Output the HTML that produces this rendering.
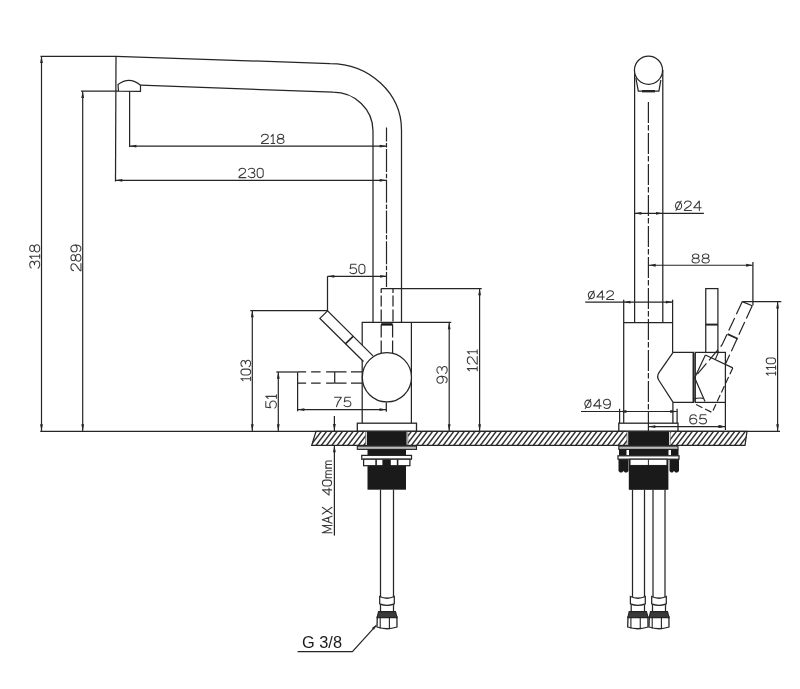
<!DOCTYPE html>
<html><head><meta charset="utf-8"><style>
html,body{margin:0;padding:0;background:#fff;width:800px;height:689px;overflow:hidden}
svg{display:block}
</style></head><body>
<svg width="800" height="689" viewBox="0 0 800 689">
<defs><filter id="gs" x="-10%" y="-50%" width="120%" height="200%"><feColorMatrix type="saturate" values="0"/></filter></defs>
<rect width="800" height="689" fill="#fff"/>
<line x1="40.5" y1="56.3" x2="116" y2="56.3" stroke="#252525" stroke-width="1.25"/>
<line x1="41.5" y1="56.3" x2="41.5" y2="431.1" stroke="#252525" stroke-width="1.2"/>
<polygon points="41.50,56.30 42.90,63.10 40.10,63.10" fill="#252525"/>
<polygon points="41.50,431.10 40.10,424.30 42.90,424.30" fill="#252525"/>
<path d="M116,56.3 L330,63.5 A71.5,66.5 0 0 1 401.5,130 L401.5,322.4" fill="none" stroke="#252525" stroke-width="1.25"/>
<line x1="116" y1="56.3" x2="115.5" y2="181.5" stroke="#252525" stroke-width="1.25"/>
<path d="M118,84.6 Q129.5,75.8 140.5,85.2 L140.5,91.4 L118.5,91.1 Z" fill="#fff" stroke="#252525" stroke-width="1.2"/>
<path d="M140.5,85.2 L333,92.2 A40,38.8 0 0 1 373,131 L373,322.4" fill="none" stroke="#252525" stroke-width="1.25"/>
<line x1="81" y1="91.2" x2="118.5" y2="91.2" stroke="#252525" stroke-width="1.25"/>
<line x1="82.7" y1="91.2" x2="82.7" y2="431.1" stroke="#252525" stroke-width="1.2"/>
<polygon points="82.70,91.20 84.10,98.00 81.30,98.00" fill="#252525"/>
<polygon points="82.70,431.10 81.30,424.30 84.10,424.30" fill="#252525"/>
<line x1="129.6" y1="91.2" x2="129.6" y2="147" stroke="#252525" stroke-width="1.25"/>
<line x1="129.6" y1="146.2" x2="386.5" y2="146.2" stroke="#252525" stroke-width="1.2"/>
<polygon points="129.60,146.20 136.40,144.80 136.40,147.60" fill="#252525"/>
<polygon points="386.50,146.20 379.70,147.60 379.70,144.80" fill="#252525"/>
<line x1="115.5" y1="180.3" x2="386.5" y2="180.3" stroke="#252525" stroke-width="1.2"/>
<polygon points="115.50,180.30 122.30,178.90 122.30,181.70" fill="#252525"/>
<polygon points="386.50,180.30 379.70,181.70 379.70,178.90" fill="#252525"/>
<line x1="386.5" y1="127.4" x2="386.5" y2="287" stroke="#252525" stroke-width="1.2" stroke-dasharray="23 1.6 4.5 1.6" stroke-dashoffset="9"/>
<line x1="327.5" y1="276.3" x2="387" y2="276.3" stroke="#252525" stroke-width="1.2"/>
<polygon points="327.50,276.30 334.30,274.90 334.30,277.70" fill="#252525"/>
<polygon points="387.00,276.30 380.20,277.70 380.20,274.90" fill="#252525"/>
<line x1="327.5" y1="276.3" x2="327.5" y2="311" stroke="#252525" stroke-width="1.25"/>
<line x1="250.3" y1="310.5" x2="327.5" y2="310.5" stroke="#252525" stroke-width="1.25"/>
<line x1="252.3" y1="310.5" x2="252.3" y2="431.1" stroke="#252525" stroke-width="1.2"/>
<polygon points="252.30,310.50 253.70,317.30 250.90,317.30" fill="#252525"/>
<polygon points="252.30,431.10 250.90,424.30 253.70,424.30" fill="#252525"/>
<line x1="381.2" y1="288.5" x2="481.7" y2="288.5" stroke="#252525" stroke-width="1.25"/>
<line x1="479.6" y1="288.5" x2="479.6" y2="431.1" stroke="#252525" stroke-width="1.2"/>
<polygon points="479.60,288.50 481.00,295.30 478.20,295.30" fill="#252525"/>
<polygon points="479.60,431.10 478.20,424.30 481.00,424.30" fill="#252525"/>
<line x1="361.75" y1="322.4" x2="451.25" y2="322.4" stroke="#252525" stroke-width="1.25"/>
<line x1="449.2" y1="322.4" x2="449.2" y2="431.1" stroke="#252525" stroke-width="1.2"/>
<polygon points="449.20,322.40 450.60,329.20 447.80,329.20" fill="#252525"/>
<polygon points="449.20,431.10 447.80,424.30 450.60,424.30" fill="#252525"/>
<line x1="362.2" y1="322.4" x2="362.2" y2="423.2" stroke="#252525" stroke-width="1.25"/>
<line x1="411.4" y1="322.4" x2="411.4" y2="423.2" stroke="#252525" stroke-width="1.25"/>
<line x1="381.2" y1="288.4" x2="381.2" y2="322.4" stroke="#252525" stroke-width="1.25" stroke-dasharray="4.5 2.5 11 3 12"/>
<line x1="393.0" y1="288.4" x2="393.0" y2="322.4" stroke="#252525" stroke-width="1.25" stroke-dasharray="4.5 2.5 11 3 12"/>
<line x1="381.2" y1="324.4" x2="381.2" y2="353" stroke="#252525" stroke-width="1.25" stroke-dasharray="13 3 13"/>
<line x1="392.6" y1="324.4" x2="392.6" y2="353" stroke="#252525" stroke-width="1.25" stroke-dasharray="13 3 13"/>
<line x1="381.2" y1="324.4" x2="392.6" y2="324.4" stroke="#111" stroke-width="2.4"/>
<path d="M363.5,361.5 L319.9,318.4 L327.6,310.9 L373,355.9" fill="#fff" stroke="#252525" stroke-width="1.25"/>
<line x1="345.4" y1="343.9" x2="353.1" y2="336.4" stroke="#252525" stroke-width="1.6"/>
<circle cx="386.9" cy="377.3" r="24.6" fill="#fff" stroke="#252525" stroke-width="1.25"/>
<line x1="297.6" y1="371.9" x2="334.5" y2="371.9" stroke="#252525" stroke-width="1.25" stroke-dasharray="8.5 5 9.5 5.5 9"/>
<line x1="297.6" y1="383.0" x2="334.5" y2="383.0" stroke="#252525" stroke-width="1.25" stroke-dasharray="8.5 5 9.5 5.5 9"/>
<line x1="334.5" y1="371.9" x2="362.4" y2="371.9" stroke="#252525" stroke-width="1.25" stroke-dasharray="12 4.5 12"/>
<line x1="334.5" y1="383.0" x2="362.4" y2="383.0" stroke="#252525" stroke-width="1.25" stroke-dasharray="12 4.5 12"/>
<line x1="334.7" y1="371.8" x2="334.7" y2="383" stroke="#252525" stroke-width="1.25"/>
<line x1="276.3" y1="372" x2="297.6" y2="372" stroke="#252525" stroke-width="1.25"/>
<line x1="278.3" y1="372" x2="278.3" y2="431.1" stroke="#252525" stroke-width="1.2"/>
<polygon points="278.30,372.00 279.70,378.80 276.90,378.80" fill="#252525"/>
<polygon points="278.30,431.10 276.90,424.30 279.70,424.30" fill="#252525"/>
<line x1="297.6" y1="372" x2="297.6" y2="411.3" stroke="#252525" stroke-width="1.25"/>
<line x1="297.6" y1="409.6" x2="386.3" y2="409.6" stroke="#252525" stroke-width="1.2"/>
<polygon points="297.60,409.60 304.40,408.20 304.40,411.00" fill="#252525"/>
<polygon points="386.30,409.60 379.50,411.00 379.50,408.20" fill="#252525"/>
<line x1="386.3" y1="402.2" x2="386.3" y2="411.8" stroke="#252525" stroke-width="1.25"/>
<line x1="40.25" y1="431.4" x2="780" y2="431.4" stroke="#252525" stroke-width="1.25"/>
<defs><clipPath id="ct"><polygon points="316,431.25 747,431.25 745,445.3 311.7,445.3"/></clipPath></defs>
<g clip-path="url(#ct)"><line x1="300.00" y1="445.5" x2="311.00" y2="431" stroke="#303030" stroke-width="1.4"/><line x1="305.30" y1="445.5" x2="316.30" y2="431" stroke="#303030" stroke-width="1.4"/><line x1="310.60" y1="445.5" x2="321.60" y2="431" stroke="#303030" stroke-width="1.4"/><line x1="315.90" y1="445.5" x2="326.90" y2="431" stroke="#303030" stroke-width="1.4"/><line x1="321.20" y1="445.5" x2="332.20" y2="431" stroke="#303030" stroke-width="1.4"/><line x1="326.50" y1="445.5" x2="337.50" y2="431" stroke="#303030" stroke-width="1.4"/><line x1="331.80" y1="445.5" x2="342.80" y2="431" stroke="#303030" stroke-width="1.4"/><line x1="337.10" y1="445.5" x2="348.10" y2="431" stroke="#303030" stroke-width="1.4"/><line x1="342.40" y1="445.5" x2="353.40" y2="431" stroke="#303030" stroke-width="1.4"/><line x1="347.70" y1="445.5" x2="358.70" y2="431" stroke="#303030" stroke-width="1.4"/><line x1="353.00" y1="445.5" x2="364.00" y2="431" stroke="#303030" stroke-width="1.4"/><line x1="358.30" y1="445.5" x2="369.30" y2="431" stroke="#303030" stroke-width="1.4"/><line x1="363.60" y1="445.5" x2="374.60" y2="431" stroke="#303030" stroke-width="1.4"/><line x1="368.90" y1="445.5" x2="379.90" y2="431" stroke="#303030" stroke-width="1.4"/><line x1="374.20" y1="445.5" x2="385.20" y2="431" stroke="#303030" stroke-width="1.4"/><line x1="379.50" y1="445.5" x2="390.50" y2="431" stroke="#303030" stroke-width="1.4"/><line x1="384.80" y1="445.5" x2="395.80" y2="431" stroke="#303030" stroke-width="1.4"/><line x1="390.10" y1="445.5" x2="401.10" y2="431" stroke="#303030" stroke-width="1.4"/><line x1="395.40" y1="445.5" x2="406.40" y2="431" stroke="#303030" stroke-width="1.4"/><line x1="400.70" y1="445.5" x2="411.70" y2="431" stroke="#303030" stroke-width="1.4"/><line x1="406.00" y1="445.5" x2="417.00" y2="431" stroke="#303030" stroke-width="1.4"/><line x1="411.30" y1="445.5" x2="422.30" y2="431" stroke="#303030" stroke-width="1.4"/><line x1="416.60" y1="445.5" x2="427.60" y2="431" stroke="#303030" stroke-width="1.4"/><line x1="421.90" y1="445.5" x2="432.90" y2="431" stroke="#303030" stroke-width="1.4"/><line x1="427.20" y1="445.5" x2="438.20" y2="431" stroke="#303030" stroke-width="1.4"/><line x1="432.50" y1="445.5" x2="443.50" y2="431" stroke="#303030" stroke-width="1.4"/><line x1="437.80" y1="445.5" x2="448.80" y2="431" stroke="#303030" stroke-width="1.4"/><line x1="443.10" y1="445.5" x2="454.10" y2="431" stroke="#303030" stroke-width="1.4"/><line x1="448.40" y1="445.5" x2="459.40" y2="431" stroke="#303030" stroke-width="1.4"/><line x1="453.70" y1="445.5" x2="464.70" y2="431" stroke="#303030" stroke-width="1.4"/><line x1="459.00" y1="445.5" x2="470.00" y2="431" stroke="#303030" stroke-width="1.4"/><line x1="464.30" y1="445.5" x2="475.30" y2="431" stroke="#303030" stroke-width="1.4"/><line x1="469.60" y1="445.5" x2="480.60" y2="431" stroke="#303030" stroke-width="1.4"/><line x1="474.90" y1="445.5" x2="485.90" y2="431" stroke="#303030" stroke-width="1.4"/><line x1="480.20" y1="445.5" x2="491.20" y2="431" stroke="#303030" stroke-width="1.4"/><line x1="485.50" y1="445.5" x2="496.50" y2="431" stroke="#303030" stroke-width="1.4"/><line x1="490.80" y1="445.5" x2="501.80" y2="431" stroke="#303030" stroke-width="1.4"/><line x1="496.10" y1="445.5" x2="507.10" y2="431" stroke="#303030" stroke-width="1.4"/><line x1="501.40" y1="445.5" x2="512.40" y2="431" stroke="#303030" stroke-width="1.4"/><line x1="506.70" y1="445.5" x2="517.70" y2="431" stroke="#303030" stroke-width="1.4"/><line x1="512.00" y1="445.5" x2="523.00" y2="431" stroke="#303030" stroke-width="1.4"/><line x1="517.30" y1="445.5" x2="528.30" y2="431" stroke="#303030" stroke-width="1.4"/><line x1="522.60" y1="445.5" x2="533.60" y2="431" stroke="#303030" stroke-width="1.4"/><line x1="527.90" y1="445.5" x2="538.90" y2="431" stroke="#303030" stroke-width="1.4"/><line x1="533.20" y1="445.5" x2="544.20" y2="431" stroke="#303030" stroke-width="1.4"/><line x1="538.50" y1="445.5" x2="549.50" y2="431" stroke="#303030" stroke-width="1.4"/><line x1="543.80" y1="445.5" x2="554.80" y2="431" stroke="#303030" stroke-width="1.4"/><line x1="549.10" y1="445.5" x2="560.10" y2="431" stroke="#303030" stroke-width="1.4"/><line x1="554.40" y1="445.5" x2="565.40" y2="431" stroke="#303030" stroke-width="1.4"/><line x1="559.70" y1="445.5" x2="570.70" y2="431" stroke="#303030" stroke-width="1.4"/><line x1="565.00" y1="445.5" x2="576.00" y2="431" stroke="#303030" stroke-width="1.4"/><line x1="570.30" y1="445.5" x2="581.30" y2="431" stroke="#303030" stroke-width="1.4"/><line x1="575.60" y1="445.5" x2="586.60" y2="431" stroke="#303030" stroke-width="1.4"/><line x1="580.90" y1="445.5" x2="591.90" y2="431" stroke="#303030" stroke-width="1.4"/><line x1="586.20" y1="445.5" x2="597.20" y2="431" stroke="#303030" stroke-width="1.4"/><line x1="591.50" y1="445.5" x2="602.50" y2="431" stroke="#303030" stroke-width="1.4"/><line x1="596.80" y1="445.5" x2="607.80" y2="431" stroke="#303030" stroke-width="1.4"/><line x1="602.10" y1="445.5" x2="613.10" y2="431" stroke="#303030" stroke-width="1.4"/><line x1="607.40" y1="445.5" x2="618.40" y2="431" stroke="#303030" stroke-width="1.4"/><line x1="612.70" y1="445.5" x2="623.70" y2="431" stroke="#303030" stroke-width="1.4"/><line x1="618.00" y1="445.5" x2="629.00" y2="431" stroke="#303030" stroke-width="1.4"/><line x1="623.30" y1="445.5" x2="634.30" y2="431" stroke="#303030" stroke-width="1.4"/><line x1="628.60" y1="445.5" x2="639.60" y2="431" stroke="#303030" stroke-width="1.4"/><line x1="633.90" y1="445.5" x2="644.90" y2="431" stroke="#303030" stroke-width="1.4"/><line x1="639.20" y1="445.5" x2="650.20" y2="431" stroke="#303030" stroke-width="1.4"/><line x1="644.50" y1="445.5" x2="655.50" y2="431" stroke="#303030" stroke-width="1.4"/><line x1="649.80" y1="445.5" x2="660.80" y2="431" stroke="#303030" stroke-width="1.4"/><line x1="655.10" y1="445.5" x2="666.10" y2="431" stroke="#303030" stroke-width="1.4"/><line x1="660.40" y1="445.5" x2="671.40" y2="431" stroke="#303030" stroke-width="1.4"/><line x1="665.70" y1="445.5" x2="676.70" y2="431" stroke="#303030" stroke-width="1.4"/><line x1="671.00" y1="445.5" x2="682.00" y2="431" stroke="#303030" stroke-width="1.4"/><line x1="676.30" y1="445.5" x2="687.30" y2="431" stroke="#303030" stroke-width="1.4"/><line x1="681.60" y1="445.5" x2="692.60" y2="431" stroke="#303030" stroke-width="1.4"/><line x1="686.90" y1="445.5" x2="697.90" y2="431" stroke="#303030" stroke-width="1.4"/><line x1="692.20" y1="445.5" x2="703.20" y2="431" stroke="#303030" stroke-width="1.4"/><line x1="697.50" y1="445.5" x2="708.50" y2="431" stroke="#303030" stroke-width="1.4"/><line x1="702.80" y1="445.5" x2="713.80" y2="431" stroke="#303030" stroke-width="1.4"/><line x1="708.10" y1="445.5" x2="719.10" y2="431" stroke="#303030" stroke-width="1.4"/><line x1="713.40" y1="445.5" x2="724.40" y2="431" stroke="#303030" stroke-width="1.4"/><line x1="718.70" y1="445.5" x2="729.70" y2="431" stroke="#303030" stroke-width="1.4"/><line x1="724.00" y1="445.5" x2="735.00" y2="431" stroke="#303030" stroke-width="1.4"/><line x1="729.30" y1="445.5" x2="740.30" y2="431" stroke="#303030" stroke-width="1.4"/><line x1="734.60" y1="445.5" x2="745.60" y2="431" stroke="#303030" stroke-width="1.4"/><line x1="739.90" y1="445.5" x2="750.90" y2="431" stroke="#303030" stroke-width="1.4"/><line x1="745.20" y1="445.5" x2="756.20" y2="431" stroke="#303030" stroke-width="1.4"/><line x1="750.50" y1="445.5" x2="761.50" y2="431" stroke="#303030" stroke-width="1.4"/><line x1="755.80" y1="445.5" x2="766.80" y2="431" stroke="#303030" stroke-width="1.4"/></g>
<polygon points="316,431.25 747,431.25 745,445.3 311.7,445.3" fill="none" stroke="#252525" stroke-width="1.25"/>
<rect x="357.29999999999995" y="423.2" width="59.2" height="7.9" fill="#fff" stroke="#252525" stroke-width="1.3"/>
<rect x="365.7" y="431.9" width="42.100000000000044" height="12.8" fill="#fff"/>
<rect x="366.9" y="431.5" width="39.700000000000045" height="13.5" fill="#1a1a1a"/>
<line x1="365.7" y1="431.5" x2="365.7" y2="445" stroke="#666" stroke-width="0.8"/>
<line x1="407.8" y1="431.5" x2="407.8" y2="445" stroke="#666" stroke-width="0.8"/>
<rect x="357.29999999999995" y="446.1" width="59.2" height="3.3" fill="#bbb" stroke="#252525" stroke-width="1.1"/>
<rect x="367.5" y="449.4" width="38.50000000000004" height="40.3" fill="#1a1a1a"/>
<rect x="361.75" y="455.4" width="49.75" height="3.8" fill="#fff" stroke="#252525" stroke-width="1.25"/>
<rect x="363.6" y="459.2" width="46.3" height="6.5" fill="#fff" stroke="#252525" stroke-width="1.25"/>
<line x1="376.1" y1="459.2" x2="376.1" y2="465.7" stroke="#252525" stroke-width="1.6"/>
<line x1="397.6" y1="459.2" x2="397.6" y2="465.7" stroke="#252525" stroke-width="1.6"/>
<rect x="382.4" y="459.6" width="8.4" height="6.5" fill="#1a1a1a"/>
<line x1="380.5" y1="489.7" x2="380.5" y2="597" stroke="#252525" stroke-width="1.25"/>
<line x1="393.5" y1="489.7" x2="393.5" y2="597" stroke="#252525" stroke-width="1.25"/>
<path d="M379.7,596.5 Q387.0,600 394.3,596.5 L394.3,603.8 Q387.0,606.8 379.7,603.8 Z" fill="#fff" stroke="#252525" stroke-width="1.25"/>
<line x1="380.5" y1="604.5" x2="380.5" y2="612" stroke="#252525" stroke-width="1.25"/>
<line x1="393.5" y1="604.5" x2="393.5" y2="612" stroke="#252525" stroke-width="1.25"/>
<path d="M377.3,617 L396.9,617 L397.0,627 Q387.0,630.5 377.0,627 Z" fill="#fff" stroke="#252525" stroke-width="1.3"/>
<path d="M378.5,611.6 L395.5,611.6 L397.1,617.6 L377.1,617.6 Z" fill="#3a3a3a" stroke="#252525" stroke-width="1.1"/>
<line x1="380.2" y1="617" x2="380.2" y2="628.5" stroke="#252525" stroke-width="1.1"/>
<line x1="389.4" y1="617" x2="389.4" y2="629.3" stroke="#252525" stroke-width="1.1"/>
<polyline points="297.6,651.6 352.4,651.6 376,625.6" fill="none" stroke="#252525" stroke-width="1.2"/>
<polygon points="377.00,624.50 373.93,629.84 371.89,627.94" fill="#252525"/>
<g filter="url(#gs)"><text x="302" y="647.6" font-family="Liberation Sans" font-size="16.2" fill="#1a1a1a" textLength="40" lengthAdjust="spacingAndGlyphs">G 3/8</text></g>
<line x1="334.4" y1="416" x2="334.4" y2="431.1" stroke="#252525" stroke-width="1.25"/>
<polygon points="334.40,431.10 333.00,424.10 335.80,424.10" fill="#252525"/>
<line x1="334.4" y1="445.3" x2="334.4" y2="535.6" stroke="#252525" stroke-width="1.25"/>
<polygon points="334.40,445.30 335.80,452.30 333.00,452.30" fill="#252525"/>
<line x1="634.6" y1="70" x2="634.6" y2="322.5" stroke="#252525" stroke-width="1.25"/>
<line x1="662.8" y1="70" x2="662.8" y2="322.5" stroke="#252525" stroke-width="1.25"/>
<path d="M635.9,78 L638.3,91.2 L658.9,91.2 L660.8,80" fill="#fff" stroke="#252525" stroke-width="1.25"/>
<line x1="642" y1="91.2" x2="655" y2="91.2" stroke="#252525" stroke-width="2.4"/>
<circle cx="648.5" cy="70.2" r="14.05" fill="#fff" stroke="#252525" stroke-width="1.25"/>
<line x1="648.4" y1="102" x2="648.4" y2="427" stroke="#252525" stroke-width="1.2" stroke-dasharray="21 2 5.5 2.5"/>
<line x1="634.6" y1="213.3" x2="703.9" y2="213.3" stroke="#252525" stroke-width="1.2"/>
<polygon points="634.60,213.30 641.40,211.90 641.40,214.70" fill="#252525"/>
<polygon points="662.80,213.30 656.00,214.70 656.00,211.90" fill="#252525"/>
<line x1="648.9" y1="265.25" x2="752.9" y2="265.25" stroke="#252525" stroke-width="1.2"/>
<polygon points="648.90,265.25 655.70,263.85 655.70,266.65" fill="#252525"/>
<polygon points="752.90,265.25 746.10,266.65 746.10,263.85" fill="#252525"/>
<line x1="752.9" y1="262" x2="752.9" y2="305.5" stroke="#252525" stroke-width="1.25"/>
<line x1="585.2" y1="302.1" x2="672.6" y2="302.1" stroke="#252525" stroke-width="1.2"/>
<polygon points="623.70,302.10 630.50,300.70 630.50,303.50" fill="#252525"/>
<polygon points="672.60,302.10 665.80,303.50 665.80,300.70" fill="#252525"/>
<line x1="623.7" y1="299.7" x2="623.7" y2="423.4" stroke="#252525" stroke-width="1.25"/>
<line x1="672.6" y1="299.7" x2="672.6" y2="352.4" stroke="#252525" stroke-width="1.25"/>
<line x1="623.7" y1="322.5" x2="672.6" y2="322.5" stroke="#252525" stroke-width="1.25"/>
<line x1="672.9" y1="402.4" x2="672.9" y2="423.4" stroke="#252525" stroke-width="1.25"/>
<line x1="742.5" y1="301.6" x2="781.3" y2="301.6" stroke="#252525" stroke-width="1.25"/>
<line x1="777.6" y1="301.6" x2="777.6" y2="431.1" stroke="#252525" stroke-width="1.2"/>
<polygon points="777.60,301.60 779.00,308.40 776.20,308.40" fill="#252525"/>
<polygon points="777.60,431.10 776.20,424.30 779.00,424.30" fill="#252525"/>
<line x1="581" y1="411.5" x2="677.1" y2="411.5" stroke="#252525" stroke-width="1.2"/>
<polygon points="619.60,411.50 626.40,410.10 626.40,412.90" fill="#252525"/>
<polygon points="677.10,411.50 670.30,412.90 670.30,410.10" fill="#252525"/>
<line x1="619.6" y1="408.8" x2="619.6" y2="423.4" stroke="#252525" stroke-width="1.25"/>
<line x1="677.1" y1="408.8" x2="677.1" y2="423.4" stroke="#252525" stroke-width="1.25"/>
<line x1="648.6" y1="426.5" x2="725.4" y2="426.5" stroke="#252525" stroke-width="1.2"/>
<polygon points="648.60,426.50 655.40,425.10 655.40,427.90" fill="#252525"/>
<polygon points="725.40,426.50 718.60,427.90 718.60,425.10" fill="#252525"/>
<line x1="725.4" y1="402.4" x2="725.4" y2="430" stroke="#252525" stroke-width="1.25"/>
<path d="M673.1,352.4 L693.5,352.4 L693.5,402.4 L673.1,402.4 L659,380.5 Q656.3,376.6 659,372.7 Z" fill="#fff" stroke="#252525" stroke-width="1.25"/>
<rect x="695.3" y="352.4" width="30.1" height="50" fill="#fff" stroke="#252525" stroke-width="1.25"/>
<line x1="693.6" y1="353" x2="693.6" y2="402" stroke="#252525" stroke-width="2.0"/>
<rect x="705.75" y="288.6" width="12.15" height="63.8" fill="#fff" stroke="#252525" stroke-width="1.25"/>
<line x1="705.75" y1="324.6" x2="717.9" y2="324.6" stroke="#252525" stroke-width="2.0"/>
<polyline points="705.4,355 732.8,367.9" fill="none" stroke="#252525" stroke-width="1.2"/>
<polyline points="705.4,355 694.7,377.7 705,401.6" fill="none" stroke="#252525" stroke-width="1.2"/>
<polyline points="732.8,367.9 712.1,412.5 693.6,403.3" fill="none" stroke="#252525" stroke-width="1.2" stroke-dasharray="7 3"/>
<path d="M694.2,398.9 Q699,397.5 703.4,398.4" fill="none" stroke="#252525" stroke-width="1.1"/>
<polyline points="742.3,301.6 722,345 695.3,376.6" fill="none" stroke="#252525" stroke-width="1.2" stroke-dasharray="14 4"/>
<polyline points="742.3,301.6 752.2,305.7" fill="none" stroke="#252525" stroke-width="1.2"/>
<polyline points="752.2,305.7 725.7,363.5" fill="none" stroke="#252525" stroke-width="1.2" stroke-dasharray="14 4"/>
<line x1="727.6" y1="334.1" x2="737.75" y2="338.7" stroke="#252525" stroke-width="1.8"/>
<line x1="718.7" y1="351.5" x2="715.4" y2="359.2" stroke="#252525" stroke-width="1.1"/>
<rect x="618.8" y="423.2" width="59.2" height="7.9" fill="#fff" stroke="#252525" stroke-width="1.3"/>
<rect x="627.0" y="431.9" width="43.19999999999995" height="12.8" fill="#fff"/>
<rect x="628.2" y="431.5" width="40.799999999999955" height="13.5" fill="#1a1a1a"/>
<line x1="627.0" y1="431.5" x2="627.0" y2="445" stroke="#666" stroke-width="0.8"/>
<line x1="670.2" y1="431.5" x2="670.2" y2="445" stroke="#666" stroke-width="0.8"/>
<rect x="618.8" y="446.1" width="59.2" height="3.3" fill="#bbb" stroke="#252525" stroke-width="1.1"/>
<rect x="628.8000000000001" y="449.4" width="39.59999999999995" height="40.3" fill="#1a1a1a"/>
<line x1="648.4" y1="423" x2="648.4" y2="431.2" stroke="#252525" stroke-width="1.2"/>
<line x1="648.6" y1="426.6" x2="725.4" y2="426.6" stroke="#252525" stroke-width="1.2"/>
<polygon points="648.60,426.60 655.40,425.20 655.40,428.00" fill="#252525"/>
<polygon points="725.40,426.60 718.60,428.00 718.60,425.20" fill="#252525"/>
<rect x="619" y="449.4" width="59.5" height="6.4" fill="#1a1a1a"/>
<rect x="626.5" y="450" width="2.5" height="5.5" fill="#fff"/>
<rect x="668.5" y="450" width="2.5" height="5.5" fill="#fff"/>
<path d="M618.5,459 H628.5 V471 L627,472.5 H625 L623.5,471 L622,472.5 H620 L618.5,471 Z" fill="#1a1a1a"/>
<path d="M669.5,459 H679 V471 L677.5,472.5 H675.5 L674,471 L672.5,472.5 H671 L669.5,471 Z" fill="#1a1a1a"/>
<rect x="618" y="455.8" width="61" height="3.4" fill="#fff" stroke="#252525" stroke-width="1.25"/>
<rect x="630" y="459.2" width="37" height="6.3" fill="#fff" stroke="#252525" stroke-width="1.1"/>
<line x1="648.4" y1="459.2" x2="648.4" y2="465.5" stroke="#252525" stroke-width="1"/>
<rect x="629.5" y="465.5" width="38" height="24" fill="#1a1a1a"/>
<line x1="632.5" y1="489.7" x2="632.5" y2="597" stroke="#252525" stroke-width="1.25"/>
<line x1="644.5" y1="489.7" x2="644.5" y2="597" stroke="#252525" stroke-width="1.25"/>
<line x1="653" y1="489.7" x2="653" y2="597" stroke="#252525" stroke-width="1.25"/>
<line x1="665" y1="489.7" x2="665" y2="597" stroke="#252525" stroke-width="1.25"/>
<path d="M630.4000000000001,596.5 Q637.85,600 645.3,596.5 L645.3,603.8 Q637.85,606.8 630.4000000000001,603.8 Z" fill="#fff" stroke="#252525" stroke-width="1.25"/>
<line x1="631.2" y1="604.5" x2="631.2" y2="612" stroke="#252525" stroke-width="1.25"/>
<line x1="644.5" y1="604.5" x2="644.5" y2="612" stroke="#252525" stroke-width="1.25"/>
<path d="M628.0,617 L647.9,617 L648.0,627 Q637.85,630.5 627.7,627 Z" fill="#fff" stroke="#252525" stroke-width="1.3"/>
<path d="M629.2,611.6 L646.5,611.6 L648.1,617.6 L627.8000000000001,617.6 Z" fill="#3a3a3a" stroke="#252525" stroke-width="1.1"/>
<line x1="630.9000000000001" y1="617" x2="630.9000000000001" y2="628.5" stroke="#252525" stroke-width="1.1"/>
<line x1="640.25" y1="617" x2="640.25" y2="629.3" stroke="#252525" stroke-width="1.1"/>
<path d="M651.7,596.5 Q659.0,600 666.3,596.5 L666.3,603.8 Q659.0,606.8 651.7,603.8 Z" fill="#fff" stroke="#252525" stroke-width="1.25"/>
<line x1="652.5" y1="604.5" x2="652.5" y2="612" stroke="#252525" stroke-width="1.25"/>
<line x1="665.5" y1="604.5" x2="665.5" y2="612" stroke="#252525" stroke-width="1.25"/>
<path d="M649.3,617 L668.9,617 L669.0,627 Q659.0,630.5 649.0,627 Z" fill="#fff" stroke="#252525" stroke-width="1.3"/>
<path d="M650.5,611.6 L667.5,611.6 L669.1,617.6 L649.1,617.6 Z" fill="#3a3a3a" stroke="#252525" stroke-width="1.1"/>
<line x1="652.2" y1="617" x2="652.2" y2="628.5" stroke="#252525" stroke-width="1.1"/>
<line x1="661.4" y1="617" x2="661.4" y2="629.3" stroke="#252525" stroke-width="1.1"/>
<g transform="translate(261.2,134.3) scale(1.0455,0.9200)" fill="none" stroke="#3a3a3a" stroke-width="1.05" stroke-linecap="round" stroke-linejoin="round"><path transform="translate(0.00,0)" d="M0.3,2.6 C0.6,0.9 1.9,0 3.5,0 C5.4,0 6.8,1.2 6.8,2.8 C6.8,4.3 5.8,5.2 3.9,6.4 C1.6,7.8 0.2,8.7 0.2,10 H7" vector-effect="non-scaling-stroke"/><path transform="translate(9.20,0)" d="M0.3,2.2 L2.2,0 V10 M0.4,10 H3.8" vector-effect="non-scaling-stroke"/><path transform="translate(15.20,0)" d="M3.4,4.7 C1.6,4.7 0.5,3.8 0.5,2.4 C0.5,1 1.6,0 3.4,0 C5.2,0 6.3,1 6.3,2.4 C6.3,3.8 5.2,4.7 3.4,4.7 C1.4,4.7 0.1,5.8 0.1,7.35 C0.1,8.9 1.4,10 3.4,10 C5.4,10 6.7,8.9 6.7,7.35 C6.7,5.8 5.4,4.7 3.4,4.7 Z" vector-effect="non-scaling-stroke"/></g>
<g transform="translate(238.70000000000002,168.15) scale(1.0166,0.9450)" fill="none" stroke="#3a3a3a" stroke-width="1.05" stroke-linecap="round" stroke-linejoin="round"><path transform="translate(0.00,0)" d="M0.3,2.6 C0.6,0.9 1.9,0 3.5,0 C5.4,0 6.8,1.2 6.8,2.8 C6.8,4.3 5.8,5.2 3.9,6.4 C1.6,7.8 0.2,8.7 0.2,10 H7" vector-effect="non-scaling-stroke"/><path transform="translate(9.20,0)" d="M0.4,1.5 C1,0.5 2.1,0 3.4,0 C5.2,0 6.5,1 6.5,2.5 C6.5,3.9 5.2,4.8 3.3,4.8 C5.5,4.8 6.8,5.8 6.8,7.4 C6.8,9 5.3,10 3.4,10 C2,10 0.8,9.4 0.2,8.4" vector-effect="non-scaling-stroke"/><path transform="translate(18.20,0)" d="M0,2.95 A2.95,2.95 0 0 1 5.9,2.95 V7.05 A2.95,2.95 0 0 1 0,7.05 Z" vector-effect="non-scaling-stroke"/></g>
<g transform="translate(349.7,264.2) scale(1.0201,0.9400)" fill="none" stroke="#3a3a3a" stroke-width="1.05" stroke-linecap="round" stroke-linejoin="round"><path transform="translate(0.00,0)" d="M6.3,0 H1.1 L0.5,4.7 C1.2,4.1 2.2,3.7 3.4,3.7 C5.4,3.7 6.8,5 6.8,6.9 C6.8,8.8 5.3,10 3.4,10 C2,10 0.8,9.5 0.2,8.5" vector-effect="non-scaling-stroke"/><path transform="translate(9.00,0)" d="M0,2.95 A2.95,2.95 0 0 1 5.9,2.95 V7.05 A2.95,2.95 0 0 1 0,7.05 Z" vector-effect="non-scaling-stroke"/></g>
<g transform="translate(334.3,397.3) scale(1.0375,0.9400)" fill="none" stroke="#3a3a3a" stroke-width="1.05" stroke-linecap="round" stroke-linejoin="round"><path transform="translate(0.00,0)" d="M0.2,0 H6.8 C4.6,2.8 2.9,6.2 2.1,10" vector-effect="non-scaling-stroke"/><path transform="translate(9.20,0)" d="M6.3,0 H1.1 L0.5,4.7 C1.2,4.1 2.2,3.7 3.4,3.7 C5.4,3.7 6.8,5 6.8,6.9 C6.8,8.8 5.3,10 3.4,10 C2,10 0.8,9.5 0.2,8.5" vector-effect="non-scaling-stroke"/></g>
<g transform="translate(675.3,200.9) scale(1.0402,0.9600)" fill="none" stroke="#3a3a3a" stroke-width="1.05" stroke-linecap="round" stroke-linejoin="round"><path transform="translate(0.00,0)" d="M3.15,1 C4.8,1 6.1,2.8 6.1,5 C6.1,7.2 4.8,9 3.15,9 C1.5,9 0.2,7.2 0.2,5 C0.2,2.8 1.5,1 3.15,1 Z M5.7,0.2 L0.6,9.9" vector-effect="non-scaling-stroke"/><path transform="translate(8.50,0)" d="M0.3,2.6 C0.6,0.9 1.9,0 3.5,0 C5.4,0 6.8,1.2 6.8,2.8 C6.8,4.3 5.8,5.2 3.9,6.4 C1.6,7.8 0.2,8.7 0.2,10 H7" vector-effect="non-scaling-stroke"/><path transform="translate(17.70,0)" d="M5.4,10 V0 L0,7.2 H7.2" vector-effect="non-scaling-stroke"/></g>
<g transform="translate(691.9,254.0) scale(1.1076,0.9000)" fill="none" stroke="#3a3a3a" stroke-width="1.05" stroke-linecap="round" stroke-linejoin="round"><path transform="translate(0.00,0)" d="M3.4,4.7 C1.6,4.7 0.5,3.8 0.5,2.4 C0.5,1 1.6,0 3.4,0 C5.2,0 6.3,1 6.3,2.4 C6.3,3.8 5.2,4.7 3.4,4.7 C1.4,4.7 0.1,5.8 0.1,7.35 C0.1,8.9 1.4,10 3.4,10 C5.4,10 6.7,8.9 6.7,7.35 C6.7,5.8 5.4,4.7 3.4,4.7 Z" vector-effect="non-scaling-stroke"/><path transform="translate(9.00,0)" d="M3.4,4.7 C1.6,4.7 0.5,3.8 0.5,2.4 C0.5,1 1.6,0 3.4,0 C5.2,0 6.3,1 6.3,2.4 C6.3,3.8 5.2,4.7 3.4,4.7 C1.4,4.7 0.1,5.8 0.1,7.35 C0.1,8.9 1.4,10 3.4,10 C5.4,10 6.7,8.9 6.7,7.35 C6.7,5.8 5.4,4.7 3.4,4.7 Z" vector-effect="non-scaling-stroke"/></g>
<g transform="translate(588.0999999999999,290.7) scale(1.0281,0.8800)" fill="none" stroke="#3a3a3a" stroke-width="1.05" stroke-linecap="round" stroke-linejoin="round"><path transform="translate(0.00,0)" d="M3.15,1 C4.8,1 6.1,2.8 6.1,5 C6.1,7.2 4.8,9 3.15,9 C1.5,9 0.2,7.2 0.2,5 C0.2,2.8 1.5,1 3.15,1 Z M5.7,0.2 L0.6,9.9" vector-effect="non-scaling-stroke"/><path transform="translate(8.50,0)" d="M5.4,10 V0 L0,7.2 H7.2" vector-effect="non-scaling-stroke"/><path transform="translate(17.90,0)" d="M0.3,2.6 C0.6,0.9 1.9,0 3.5,0 C5.4,0 6.8,1.2 6.8,2.8 C6.8,4.3 5.8,5.2 3.9,6.4 C1.6,7.8 0.2,8.7 0.2,10 H7" vector-effect="non-scaling-stroke"/></g>
<g transform="translate(584.5999999999999,399.2) scale(1.0567,0.9300)" fill="none" stroke="#3a3a3a" stroke-width="1.05" stroke-linecap="round" stroke-linejoin="round"><path transform="translate(0.00,0)" d="M3.15,1 C4.8,1 6.1,2.8 6.1,5 C6.1,7.2 4.8,9 3.15,9 C1.5,9 0.2,7.2 0.2,5 C0.2,2.8 1.5,1 3.15,1 Z M5.7,0.2 L0.6,9.9" vector-effect="non-scaling-stroke"/><path transform="translate(8.50,0)" d="M5.4,10 V0 L0,7.2 H7.2" vector-effect="non-scaling-stroke"/><path transform="translate(17.90,0)" d="M0.5,8.6 C1.1,9.5 2.1,10 3.3,10 C5.4,10 6.6,7.8 6.6,4.6 C6.6,1.6 5.3,0 3.3,0 C1.3,0 0,1.4 0,3.2 C0,5 1.3,6.2 3.2,6.2 C4.8,6.2 6,5.4 6.6,4.2" vector-effect="non-scaling-stroke"/></g>
<g transform="translate(689.5,414.8) scale(1.0759,0.9100)" fill="none" stroke="#3a3a3a" stroke-width="1.05" stroke-linecap="round" stroke-linejoin="round"><path transform="translate(0.00,0)" d="M6.3,1.4 C5.7,0.5 4.7,0 3.5,0 C1.4,0 0.2,2.2 0.2,5.4 C0.2,8.4 1.5,10 3.5,10 C5.5,10 6.8,8.6 6.8,6.8 C6.8,5 5.5,3.8 3.6,3.8 C2,3.8 0.8,4.6 0.2,5.8" vector-effect="non-scaling-stroke"/><path transform="translate(9.00,0)" d="M6.3,0 H1.1 L0.5,4.7 C1.2,4.1 2.2,3.7 3.4,3.7 C5.4,3.7 6.8,5 6.8,6.9 C6.8,8.8 5.3,10 3.4,10 C2,10 0.8,9.5 0.2,8.5" vector-effect="non-scaling-stroke"/></g>
<g transform="translate(29.7,268.45) rotate(-90) scale(1.0894,1.0000)" fill="none" stroke="#3a3a3a" stroke-width="1.05" stroke-linecap="round" stroke-linejoin="round"><path transform="translate(0.00,0)" d="M0.4,1.5 C1,0.5 2.1,0 3.4,0 C5.2,0 6.5,1 6.5,2.5 C6.5,3.9 5.2,4.8 3.3,4.8 C5.5,4.8 6.8,5.8 6.8,7.4 C6.8,9 5.3,10 3.4,10 C2,10 0.8,9.4 0.2,8.4" vector-effect="non-scaling-stroke"/><path transform="translate(9.00,0)" d="M0.3,2.2 L2.2,0 V10 M0.4,10 H3.8" vector-effect="non-scaling-stroke"/><path transform="translate(15.00,0)" d="M3.4,4.7 C1.6,4.7 0.5,3.8 0.5,2.4 C0.5,1 1.6,0 3.4,0 C5.2,0 6.3,1 6.3,2.4 C6.3,3.8 5.2,4.7 3.4,4.7 C1.4,4.7 0.1,5.8 0.1,7.35 C0.1,8.9 1.4,10 3.4,10 C5.4,10 6.7,8.9 6.7,7.35 C6.7,5.8 5.4,4.7 3.4,4.7 Z" vector-effect="non-scaling-stroke"/></g>
<g transform="translate(70.89999999999999,270.95) rotate(-90) scale(1.0500,1.0050)" fill="none" stroke="#3a3a3a" stroke-width="1.05" stroke-linecap="round" stroke-linejoin="round"><path transform="translate(0.00,0)" d="M0.3,2.6 C0.6,0.9 1.9,0 3.5,0 C5.4,0 6.8,1.2 6.8,2.8 C6.8,4.3 5.8,5.2 3.9,6.4 C1.6,7.8 0.2,8.7 0.2,10 H7" vector-effect="non-scaling-stroke"/><path transform="translate(9.20,0)" d="M3.4,4.7 C1.6,4.7 0.5,3.8 0.5,2.4 C0.5,1 1.6,0 3.4,0 C5.2,0 6.3,1 6.3,2.4 C6.3,3.8 5.2,4.7 3.4,4.7 C1.4,4.7 0.1,5.8 0.1,7.35 C0.1,8.9 1.4,10 3.4,10 C5.4,10 6.7,8.9 6.7,7.35 C6.7,5.8 5.4,4.7 3.4,4.7 Z" vector-effect="non-scaling-stroke"/><path transform="translate(18.20,0)" d="M0.5,8.6 C1.1,9.5 2.1,10 3.3,10 C5.4,10 6.6,7.8 6.6,4.6 C6.6,1.6 5.3,0 3.3,0 C1.3,0 0,1.4 0,3.2 C0,5 1.3,6.2 3.2,6.2 C4.8,6.2 6,5.4 6.6,4.2" vector-effect="non-scaling-stroke"/></g>
<g transform="translate(240.9,380.9) rotate(-90) scale(0.9904,0.9700)" fill="none" stroke="#3a3a3a" stroke-width="1.05" stroke-linecap="round" stroke-linejoin="round"><path transform="translate(0.00,0)" d="M0.3,2.2 L2.2,0 V10 M0.4,10 H3.8" vector-effect="non-scaling-stroke"/><path transform="translate(6.00,0)" d="M0,2.95 A2.95,2.95 0 0 1 5.9,2.95 V7.05 A2.95,2.95 0 0 1 0,7.05 Z" vector-effect="non-scaling-stroke"/><path transform="translate(14.10,0)" d="M0.4,1.5 C1,0.5 2.1,0 3.4,0 C5.2,0 6.5,1 6.5,2.5 C6.5,3.9 5.2,4.8 3.3,4.8 C5.5,4.8 6.8,5.8 6.8,7.4 C6.8,9 5.3,10 3.4,10 C2,10 0.8,9.4 0.2,8.4" vector-effect="non-scaling-stroke"/></g>
<g transform="translate(265.8,408.3) rotate(-90) scale(1.0625,1.0600)" fill="none" stroke="#3a3a3a" stroke-width="1.05" stroke-linecap="round" stroke-linejoin="round"><path transform="translate(0.00,0)" d="M6.3,0 H1.1 L0.5,4.7 C1.2,4.1 2.2,3.7 3.4,3.7 C5.4,3.7 6.8,5 6.8,6.9 C6.8,8.8 5.3,10 3.4,10 C2,10 0.8,9.5 0.2,8.5" vector-effect="non-scaling-stroke"/><path transform="translate(9.00,0)" d="M0.3,2.2 L2.2,0 V10 M0.4,10 H3.8" vector-effect="non-scaling-stroke"/></g>
<g transform="translate(436.90000000000003,383.3) rotate(-90) scale(1.0633,1.0300)" fill="none" stroke="#3a3a3a" stroke-width="1.05" stroke-linecap="round" stroke-linejoin="round"><path transform="translate(0.00,0)" d="M0.5,8.6 C1.1,9.5 2.1,10 3.3,10 C5.4,10 6.6,7.8 6.6,4.6 C6.6,1.6 5.3,0 3.3,0 C1.3,0 0,1.4 0,3.2 C0,5 1.3,6.2 3.2,6.2 C4.8,6.2 6,5.4 6.6,4.2" vector-effect="non-scaling-stroke"/><path transform="translate(9.00,0)" d="M0.4,1.5 C1,0.5 2.1,0 3.4,0 C5.2,0 6.5,1 6.5,2.5 C6.5,3.9 5.2,4.8 3.3,4.8 C5.5,4.8 6.8,5.8 6.8,7.4 C6.8,9 5.3,10 3.4,10 C2,10 0.8,9.4 0.2,8.4" vector-effect="non-scaling-stroke"/></g>
<g transform="translate(467.3,371.09999999999997) rotate(-90) scale(1.1158,0.9900)" fill="none" stroke="#3a3a3a" stroke-width="1.05" stroke-linecap="round" stroke-linejoin="round"><path transform="translate(0.00,0)" d="M0.3,2.2 L2.2,0 V10 M0.4,10 H3.8" vector-effect="non-scaling-stroke"/><path transform="translate(6.00,0)" d="M0.3,2.6 C0.6,0.9 1.9,0 3.5,0 C5.4,0 6.8,1.2 6.8,2.8 C6.8,4.3 5.8,5.2 3.9,6.4 C1.6,7.8 0.2,8.7 0.2,10 H7" vector-effect="non-scaling-stroke"/><path transform="translate(15.20,0)" d="M0.3,2.2 L2.2,0 V10 M0.4,10 H3.8" vector-effect="non-scaling-stroke"/></g>
<g transform="translate(766.1999999999999,375.45) rotate(-90) scale(0.9749,0.9400)" fill="none" stroke="#3a3a3a" stroke-width="1.05" stroke-linecap="round" stroke-linejoin="round"><path transform="translate(0.00,0)" d="M0.3,2.2 L2.2,0 V10 M0.4,10 H3.8" vector-effect="non-scaling-stroke"/><path transform="translate(6.00,0)" d="M0.3,2.2 L2.2,0 V10 M0.4,10 H3.8" vector-effect="non-scaling-stroke"/><path transform="translate(12.00,0)" d="M0,2.95 A2.95,2.95 0 0 1 5.9,2.95 V7.05 A2.95,2.95 0 0 1 0,7.05 Z" vector-effect="non-scaling-stroke"/></g>
<g transform="translate(322.3,532.8000000000001) rotate(-90) scale(0.9733,0.9700)" fill="none" stroke="#3a3a3a" stroke-width="1.05" stroke-linecap="round" stroke-linejoin="round"><path transform="translate(0.00,0)" d="M0,10 V0 L3.8,9 L7.6,0 V10" vector-effect="non-scaling-stroke"/><path transform="translate(9.80,0)" d="M0,10 L3.65,0 L7.3,10 M1.3,6.6 H6" vector-effect="non-scaling-stroke"/><path transform="translate(19.30,0)" d="M0,0 L6.9,10 M6.9,0 L0,10" vector-effect="non-scaling-stroke"/></g>
<g transform="translate(322.40000000000003,495.2) rotate(-90) scale(0.9842,0.9200)" fill="none" stroke="#3a3a3a" stroke-width="1.05" stroke-linecap="round" stroke-linejoin="round"><path transform="translate(0.00,0)" d="M5.4,10 V0 L0,7.2 H7.2" vector-effect="non-scaling-stroke"/><path transform="translate(9.40,0)" d="M0,2.95 A2.95,2.95 0 0 1 5.9,2.95 V7.05 A2.95,2.95 0 0 1 0,7.05 Z" vector-effect="non-scaling-stroke"/><path transform="translate(17.50,0)" d="M0.2,10 V3.6 M0.2,5.2 C0.6,4.1 1.2,3.6 2.1,3.6 C3.1,3.6 3.8,4.3 3.8,5.3 V10 M3.8,5.3 C3.8,4.3 4.5,3.6 5.5,3.6 C6.6,3.6 7.4,4.3 7.4,5.3 V10" vector-effect="non-scaling-stroke"/><path transform="translate(27.30,0)" d="M0.2,10 V3.6 M0.2,5.2 C0.6,4.1 1.2,3.6 2.1,3.6 C3.1,3.6 3.8,4.3 3.8,5.3 V10 M3.8,5.3 C3.8,4.3 4.5,3.6 5.5,3.6 C6.6,3.6 7.4,4.3 7.4,5.3 V10" vector-effect="non-scaling-stroke"/></g>
</svg></body></html>
